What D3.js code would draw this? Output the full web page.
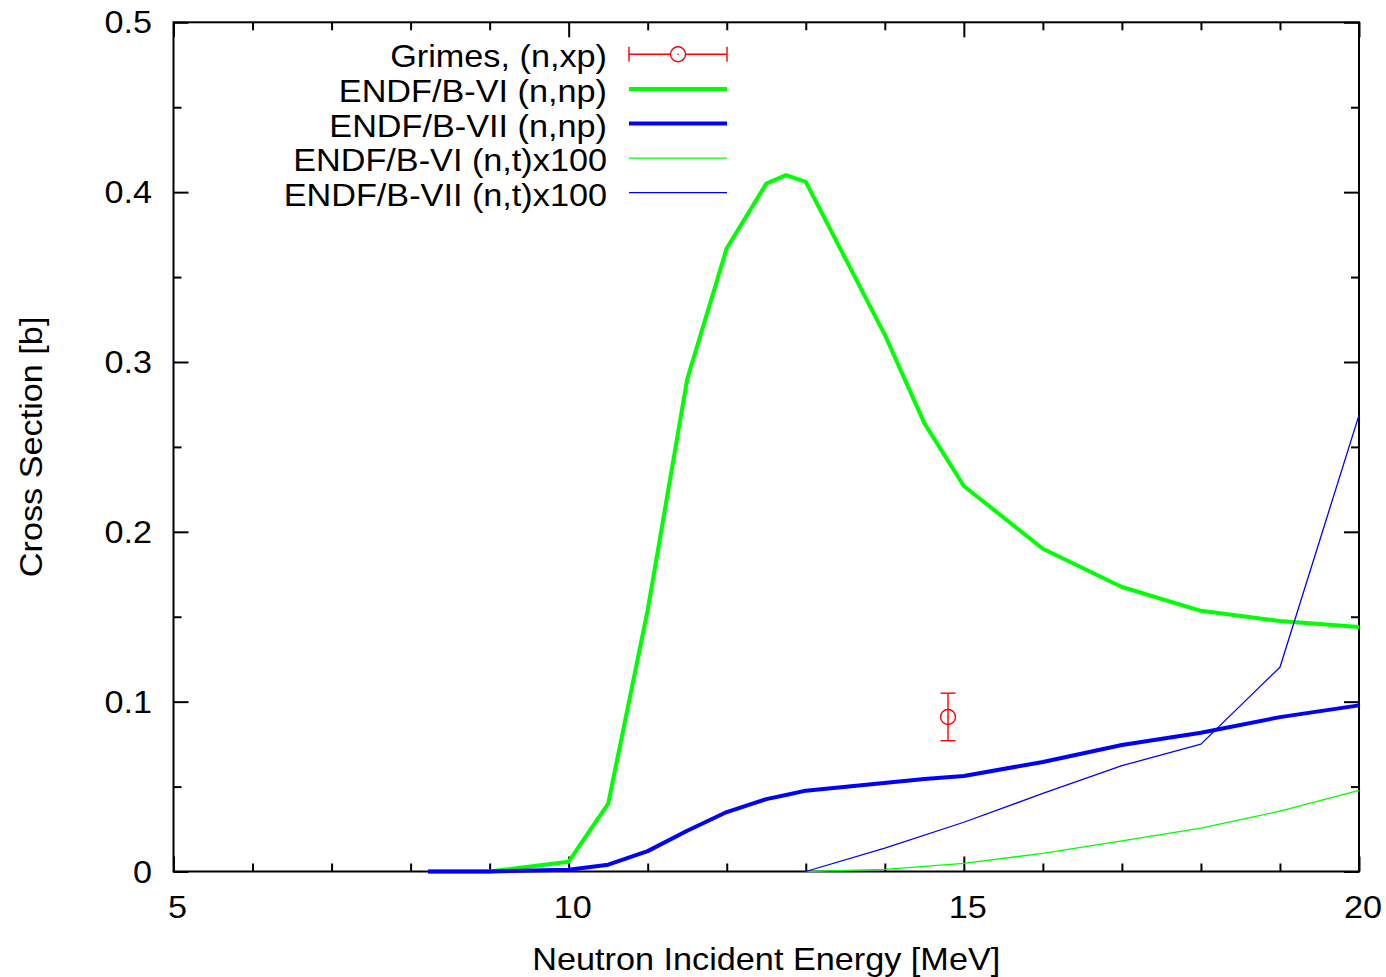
<!DOCTYPE html>
<html>
<head>
<meta charset="utf-8">
<script src="https://cdn.jsdelivr.net/npm/d3@7"></script>
<style>
  body { margin: 0; background: #fff; }
  svg { display: block; }
  text { font-family: "Liberation Sans", Arial, Helvetica, sans-serif; fill: #000; }
</style>
</head>
<body>
<svg id="chart" width="1386" height="977"></svg>
<script>
// ---- data ----
const xMajorTicks = [5, 10, 15, 20];
const xMinorTicks = [6, 7, 8, 9, 11, 12, 13, 14, 16, 17, 18, 19];
const yMajorTicks = [0, 0.1, 0.2, 0.3, 0.4, 0.5];
const yMinorTicks = [0.05, 0.15, 0.25, 0.35, 0.45];
const xTickLabels = ["5", "10", "15", "20"];
const yTickLabels = ["0", "0.1", "0.2", "0.3", "0.4", "0.5"];

// ENDF/B-VI (n,np)
const b6npEnergy = [8.22, 9, 10, 10.5, 11, 11.5, 12, 12.5, 12.75, 13, 14, 14.5, 15, 16, 17, 18, 19, 20];
const b6npXs     = [0, 0, 0.0058, 0.040, 0.154, 0.290, 0.367, 0.405, 0.410, 0.406, 0.316, 0.264, 0.227, 0.190, 0.1675, 0.1535, 0.1475, 0.144];
// ENDF/B-VII (n,np)
const b7npEnergy = [8.22, 9, 10, 10.5, 11, 11.5, 12, 12.5, 12.75, 13, 14.5, 15, 16, 17, 18, 19, 20];
const b7npXs     = [0, 0, 0.001, 0.004, 0.012, 0.024, 0.035, 0.0426, 0.045, 0.0476, 0.0545, 0.0562, 0.0645, 0.0745, 0.0817, 0.0909, 0.0978];
// ENDF/B-VI (n,t) x100
const b6ntEnergy = [13, 14, 15, 16, 17, 18, 19, 20];
const b6ntXs     = [0, 0.0012, 0.0048, 0.0107, 0.018, 0.0255, 0.0355, 0.0477];
// ENDF/B-VII (n,t) x100
const b7ntEnergy = [13, 14, 15, 16, 17, 18, 19, 20];
const b7ntXs     = [0, 0.0137, 0.029, 0.046, 0.0623, 0.075, 0.1203, 0.2687];
// Grimes, (n,xp) measurement
const grimesEnergy = [14.8];
const grimesXs     = [0.091];
const grimesErr    = [0.014];

const seriesNames  = ["Grimes, (n,xp)", "ENDF/B-VI (n,np)", "ENDF/B-VII (n,np)", "ENDF/B-VI (n,t)x100", "ENDF/B-VII (n,t)x100"];
const seriesColors = ["#ff0000", "#00ff00", "#0000ff", "#00ff00", "#0000ff"];
const seriesWidths = [1.4, 4, 4, 1.3, 1.3];

// ---- layout ----
const svg = d3.select("#chart");
const FS = 32;      // font size
const SX = 1.07;    // horizontal glyph stretch
const plotL = 173.5, plotR = 1359, plotT = 22.3, plotB = 871.5;

const x = d3.scaleLinear().domain([5, 20]).range([plotL, plotR]);
const y = d3.scaleLinear().domain([0, 0.5]).range([plotB, plotT]);

svg.append("rect").attr("width", 1386).attr("height", 977).attr("fill", "#fff");

// ---- tick marks on all four sides, pointing inward ----
function tickAxis(gen, values, size, transform) {
  const g = svg.append("g")
    .attr("transform", transform)
    .call(gen.tickValues(values).tickSizeInner(-size).tickSizeOuter(0).tickFormat(() => ""));
  g.select(".domain").remove();
  g.selectAll(".tick line").attr("stroke", "#000").attr("stroke-width", 2);
  return g;
}
tickAxis(d3.axisBottom(x), xMinorTicks, 8, `translate(0,${plotB})`);
tickAxis(d3.axisBottom(x), xMajorTicks, 15, `translate(0,${plotB})`);
tickAxis(d3.axisTop(x), xMinorTicks, 8, `translate(0,${plotT})`);
tickAxis(d3.axisTop(x), xMajorTicks, 15, `translate(0,${plotT})`);
tickAxis(d3.axisLeft(y), yMinorTicks, 8, `translate(${plotL},0)`);
tickAxis(d3.axisLeft(y), yMajorTicks, 15, `translate(${plotL},0)`);
tickAxis(d3.axisRight(y), yMinorTicks, 8, `translate(${plotR},0)`);
tickAxis(d3.axisRight(y), yMajorTicks, 15, `translate(${plotR},0)`);

// ---- tick labels ----
const xLab = svg.append("g");
xMajorTicks.forEach((v, i) => {
  xLab.append("text")
    .attr("transform", `translate(${x(v) + 4},${plotB + 46}) scale(${SX},1)`)
    .attr("text-anchor", "middle")
    .attr("font-size", FS)
    .text(xTickLabels[i]);
});
const yLab = svg.append("g");
yMajorTicks.forEach((v, i) => {
  yLab.append("text")
    .attr("transform", `translate(${plotL - 21.5},${y(v) + 11}) scale(${SX},1)`)
    .attr("text-anchor", "end")
    .attr("font-size", FS)
    .text(yTickLabels[i]);
});

// ---- axis titles ----
svg.append("text")
  .attr("transform", `translate(${(plotL + plotR) / 2},970) scale(${SX},1)`)
  .attr("text-anchor", "middle")
  .attr("font-size", FS)
  .text("Neutron Incident Energy [MeV]");
svg.append("text")
  .attr("transform", `translate(42,${(plotT + plotB) / 2}) rotate(-90) scale(${SX},1)`)
  .attr("text-anchor", "middle")
  .attr("font-size", FS)
  .text("Cross Section [b]");

// ---- frame ----
svg.append("rect")
  .attr("x", plotL).attr("y", plotT)
  .attr("width", plotR - plotL).attr("height", plotB - plotT)
  .attr("fill", "none").attr("stroke", "#000").attr("stroke-width", 2);

// ---- plot content ----
const plot = svg.append("g");
const line = d3.line().x(d => x(d[0])).y(d => y(d[1]));

// measurement with error bar
function errorPoint(g, cx, cy, yLo, yHi, color) {
  g.append("line").attr("x1", cx).attr("x2", cx).attr("y1", yLo).attr("y2", yHi)
    .attr("stroke", color).attr("stroke-width", 1.4);
  [yLo, yHi].forEach(v => g.append("line")
    .attr("x1", cx - 7.5).attr("x2", cx + 7.5).attr("y1", v).attr("y2", v)
    .attr("stroke", color).attr("stroke-width", 1.4));
  g.append("circle").attr("cx", cx).attr("cy", cy).attr("r", 7.5)
    .attr("fill", "none").attr("stroke", color).attr("stroke-width", 1.4);
  g.append("circle").attr("cx", cx).attr("cy", cy).attr("r", 0.8).attr("fill", color);
}
grimesEnergy.forEach((e, i) => {
  errorPoint(plot, x(e), y(grimesXs[i]), y(grimesXs[i] - grimesErr[i]), y(grimesXs[i] + grimesErr[i]), seriesColors[0]);
});

const curves = [
  [b6npEnergy, b6npXs],
  [b7npEnergy, b7npXs],
  [b6ntEnergy, b6ntXs],
  [b7ntEnergy, b7ntXs]
];
curves.forEach(([es, vs], i) => {
  plot.append("path")
    .datum(es.map((e, k) => [e, vs[k]]))
    .attr("d", line)
    .attr("fill", "none")
    .attr("stroke", seriesColors[i + 1])
    .attr("stroke-width", seriesWidths[i + 1])
    .attr("stroke-linejoin", "round");
});

// ---- legend ----
const legend = svg.append("g");
const legTextX = 607, legX1 = 629, legX2 = 727, legY0 = 54.3, legDY = 34.6;
seriesNames.forEach((name, i) => {
  const ry = legY0 + i * legDY;
  legend.append("text")
    .attr("transform", `translate(${legTextX},${ry + 13}) scale(${SX},1)`)
    .attr("text-anchor", "end")
    .attr("font-size", FS)
    .text(name);
  if (i === 0) {
    const c = seriesColors[0];
    legend.append("line").attr("x1", legX1).attr("x2", legX2).attr("y1", ry).attr("y2", ry)
      .attr("stroke", c).attr("stroke-width", 1.4);
    [legX1, legX2].forEach(v => legend.append("line")
      .attr("x1", v).attr("x2", v).attr("y1", ry - 7.5).attr("y2", ry + 7.5)
      .attr("stroke", c).attr("stroke-width", 1.4));
    legend.append("circle").attr("cx", (legX1 + legX2) / 2).attr("cy", ry).attr("r", 7.5)
      .attr("fill", "#fff").attr("stroke", c).attr("stroke-width", 1.4);
    legend.append("circle").attr("cx", (legX1 + legX2) / 2).attr("cy", ry).attr("r", 0.8).attr("fill", c);
  } else {
    legend.append("line").attr("x1", legX1).attr("x2", legX2).attr("y1", ry).attr("y2", ry)
      .attr("stroke", seriesColors[i]).attr("stroke-width", seriesWidths[i]);
  }
});
</script>
</body>
</html>
